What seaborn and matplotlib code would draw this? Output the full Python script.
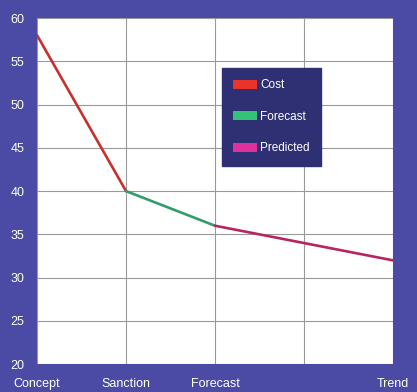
import pandas as pd
import matplotlib
matplotlib.use("Agg")
import matplotlib.pyplot as plt
from matplotlib.patches import Patch
import seaborn as sns

# Data
stages = ["Concept", "Sanction", "Forecast", "", "Trend"]
cost_x = [0, 1]
cost_y = [58, 40]
forecast_x = [1, 2]
forecast_y = [40, 36]
predicted_x = [2, 3, 4]
predicted_y = [36, 34, 32]

df = pd.concat([
    pd.DataFrame({"x": cost_x, "y": cost_y, "series": "Cost"}),
    pd.DataFrame({"x": forecast_x, "y": forecast_y, "series": "Forecast"}),
    pd.DataFrame({"x": predicted_x, "y": predicted_y, "series": "Predicted"}),
])

line_colors = {"Cost": "#c8302e", "Forecast": "#2e9e6a", "Predicted": "#b82460"}
swatch_colors = {"Cost": "#e8342a", "Forecast": "#34c278", "Predicted": "#e0309c"}
bg = "#4b4ba6"

sns.set_style("white")
plt.rcParams["font.family"] = ["Liberation Sans", "DejaVu Sans"]

fig = plt.figure(figsize=(4.17, 3.92), dpi=100, facecolor=bg)
ax = fig.add_axes([0.089, 0.071, 0.853, 0.883])
ax.set_facecolor("white")

sns.lineplot(data=df, x="x", y="y", hue="series", palette=line_colors,
             linewidth=1.9, legend=False, ax=ax, sort=False)

ax.set_xlim(0, 4)
ax.set_ylim(20, 60)
ax.set_xticks(range(len(stages)))
ax.set_xticklabels(stages)
ax.set_yticks(range(20, 61, 5))
ax.grid(True, color="#9a9a9a", linewidth=0.8)
ax.tick_params(colors="white", labelsize=9, length=0, pad=9)
ax.tick_params(axis="x", pad=10)
for s in ax.spines.values():
    s.set_visible(False)
ax.set_xlabel("")
ax.set_ylabel("")

handles = [Patch(facecolor=swatch_colors[k], edgecolor="none", label=k) for k in ["Cost", "Forecast", "Predicted"]]
leg = ax.legend(handles=handles, loc="upper left", bbox_to_anchor=(0.52, 0.855),
                borderaxespad=0, frameon=True, fancybox=False, framealpha=1,
                facecolor="#2f2f74", edgecolor="#2f2f74", fontsize=8.5,
                labelcolor="white", labelspacing=1.65, handlelength=2.0,
                handleheight=0.75, handletextpad=0.3, borderpad=0.95)

fig.savefig("out.png", dpi=100, facecolor=bg)
